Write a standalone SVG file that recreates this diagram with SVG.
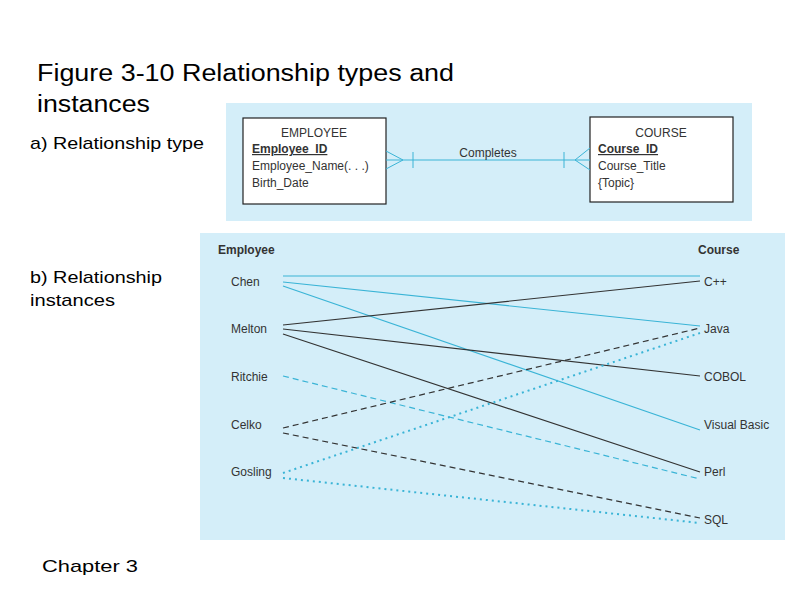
<svg xmlns="http://www.w3.org/2000/svg" width="800" height="600" viewBox="0 0 800 600">
<style>
text{font-family:"Liberation Sans",Arial,sans-serif;}
.t{font-size:23px;fill:#000}
.s{font-size:17px;fill:#000}
.n{font-size:12px;fill:#333}
.h{font-size:12px;fill:#333;font-weight:bold}
.box{fill:#fff;stroke:#222;stroke-width:1.2}
.rel{stroke:#3ab4d6;stroke-width:1;fill:none}
.c{stroke:#3ab4d6;stroke-width:1.2;fill:none}
.k{stroke:#333;stroke-width:1.2;fill:none}
.d{stroke-dasharray:6 4}
.o{stroke-dasharray:2 4;stroke-width:2}
</style>
<rect width="800" height="600" fill="#fff"/>
<text class="t" x="37" y="81" textLength="417" lengthAdjust="spacingAndGlyphs">Figure 3-10 Relationship types and</text>
<text class="t" x="37" y="112" textLength="113" lengthAdjust="spacingAndGlyphs">instances</text>
<text class="s" x="30" y="149" textLength="174" lengthAdjust="spacingAndGlyphs">a) Relationship type</text>
<text class="s" x="30" y="283" textLength="132" lengthAdjust="spacingAndGlyphs">b) Relationship</text>
<text class="s" x="30" y="306" textLength="85" lengthAdjust="spacingAndGlyphs">instances</text>
<text class="s" x="42" y="572" textLength="96" lengthAdjust="spacingAndGlyphs">Chapter 3</text>
<rect x="226" y="103" width="526" height="118" fill="#d4eef9"/>
<rect x="200" y="233" width="585" height="307" fill="#d4eef9"/>
<g id="employee">
<rect class="box" x="243" y="118" width="143" height="86"/>
<text class="n" x="314" y="137" text-anchor="middle">EMPLOYEE</text>
<text class="h" x="252" y="153" text-decoration="underline">Employee_ID</text>
<text class="n" x="252" y="170">Employee_Name(. . .)</text>
<text class="n" x="252" y="187">Birth_Date</text>
</g>
<g id="course">
<rect class="box" x="590" y="117" width="143" height="85"/>
<text class="n" x="661" y="137" text-anchor="middle">COURSE</text>
<text class="h" x="598" y="153" text-decoration="underline">Course_ID</text>
<text class="n" x="598" y="170">Course_Title</text>
<text class="n" x="598" y="187">{Topic}</text>
</g>
<g id="connectors">
<path class="rel" d="M386 160H590 M386 151L403 160L386 169 M413 152V168 M590 148L575 160L590 170 M564 152V168"/>
<text class="n" x="488" y="157" text-anchor="middle">Completes</text>
<path class="c" d="M283 276H700 M283 282L700 326 M283 286L700 430"/>
<path class="k" d="M283 325L700 281 M283 329L700 376 M283 334L700 472"/>
<path class="c d" d="M283 376L700 479"/>
<path class="k d" d="M283 428L700 328 M283 433L700 518"/>
<path class="c o" d="M283 473L700 333 M283 478L700 523"/>
</g>
<g id="labels" font-size="12">
<text class="h" x="218" y="254">Employee</text>
<text class="h" x="698" y="254">Course</text>
<text class="n" x="231" y="286">Chen</text>
<text class="n" x="231" y="333">Melton</text>
<text class="n" x="231" y="381">Ritchie</text>
<text class="n" x="231" y="429">Celko</text>
<text class="n" x="231" y="476">Gosling</text>
<text class="n" x="704" y="286">C++</text>
<text class="n" x="704" y="333">Java</text>
<text class="n" x="704" y="381">COBOL</text>
<text class="n" x="704" y="429">Visual Basic</text>
<text class="n" x="704" y="476">Perl</text>
<text class="n" x="704" y="524">SQL</text>
</g>
</svg>
